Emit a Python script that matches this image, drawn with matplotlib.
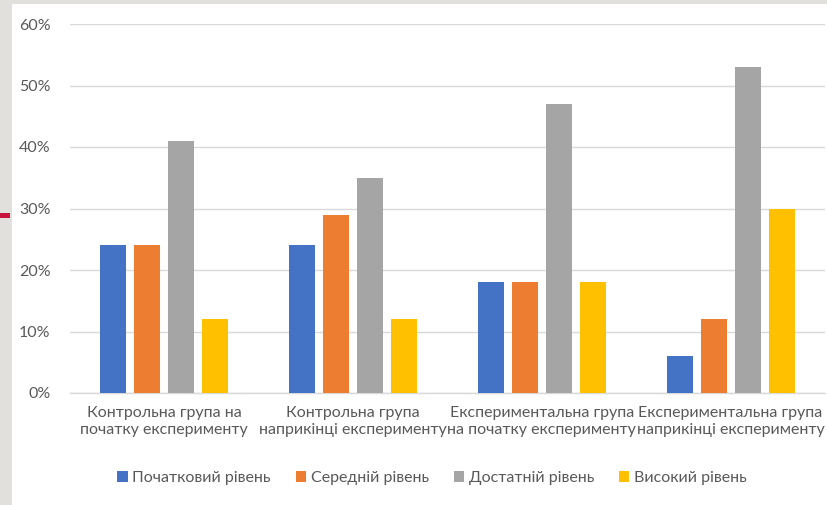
import matplotlib
matplotlib.use("Agg")
import matplotlib.pyplot as plt
from matplotlib.patches import Rectangle
from matplotlib.ticker import PercentFormatter
import numpy as np

categories = [
    "Контрольна група на\nпочатку експерименту",
    "Контрольна група\nнаприкінці експерименту",
    "Експериментальна група\nна початку експерименту",
    "Експериментальна група\nнаприкінці експерименту",
]
series_names = ["Початковий рівень", "Середній рівень", "Достатній рівень", "Високий рівень"]
series_values = [
    [24, 24, 18, 6],
    [24, 29, 18, 12],
    [41, 35, 47, 53],
    [12, 12, 18, 30],
]
colors = ["#4472C4", "#ED7D31", "#A5A5A5", "#FFC000"]
yticks = [0, 10, 20, 30, 40, 50, 60]

plt.rcParams["font.family"] = ["Lato", "DejaVu Sans"]

W, H = 827, 505
fig = plt.figure(figsize=(W / 100, H / 100), dpi=100)
fig.patch.set_facecolor("#e2e0dd")

# white card behind the chart and the small accent mark on the left edge
fig.patches.append(Rectangle((12 / W, 0), 1 - 12 / W, 1 - 4 / H,
                             transform=fig.transFigure, facecolor="white",
                             edgecolor="none", zorder=-5))
fig.patches.append(Rectangle((0, 1 - 218 / H), 10 / W, 5 / H,
                             transform=fig.transFigure, facecolor="#c8143c",
                             edgecolor="none", zorder=-5))

ax = fig.add_axes([70 / W, 1 - 393 / H, 755 / W, (393 - 24) / H])
ax.set_facecolor("none")

x = np.arange(len(categories))
bar_w = 26 / 188.75
step = 34 / 188.75
offsets = (np.arange(len(series_names)) - 1.5) * step
for i, (name, vals) in enumerate(zip(series_names, series_values)):
    ax.bar(x + offsets[i], vals, width=bar_w, color=colors[i], label=name, zorder=3)

ax.set_xlim(-0.5, len(categories) - 0.5)
ax.set_ylim(0, 60)
ax.set_yticks(yticks)
ax.yaxis.set_major_formatter(PercentFormatter(decimals=0))
ax.grid(axis="y", color="#d9d9d9", linewidth=1, zorder=0)
for s in ["top", "right", "left"]:
    ax.spines[s].set_visible(False)
ax.spines["bottom"].set_color("#d9d9d9")
ax.spines["bottom"].set_linewidth(1)

ax.set_xticks(x)
ax.set_xticklabels(categories, fontsize=11.5, color="#595959", linespacing=1.35)
ax.tick_params(axis="x", length=0, pad=9)
ax.tick_params(axis="y", length=0, pad=14, labelsize=11.5, labelcolor="#595959")

leg = fig.legend(loc="center", bbox_to_anchor=(432 / W, 1 - 478 / H), ncol=4,
                 frameon=False, fontsize=11.5, handlelength=0.65, handleheight=0.65,
                 columnspacing=1.55, handletextpad=0.3)
for t in leg.get_texts():
    t.set_color("#595959")

fig.savefig("out.png", dpi=100, facecolor=fig.get_facecolor())
